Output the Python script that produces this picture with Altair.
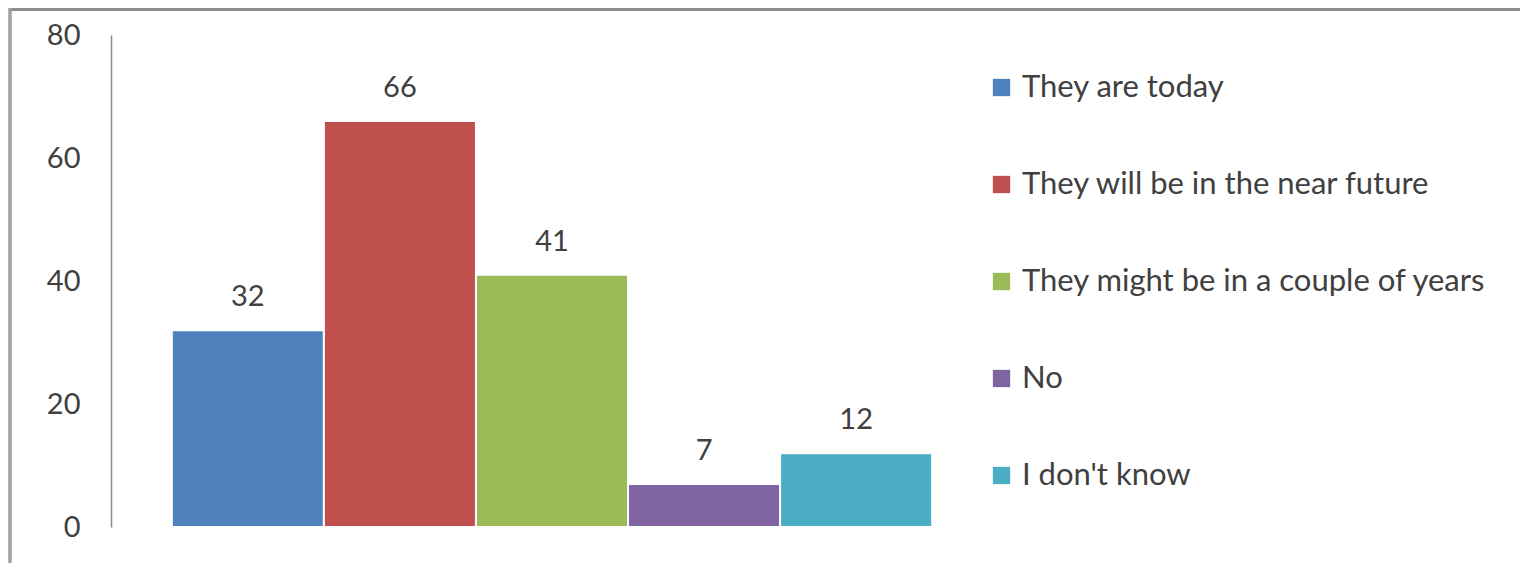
import altair as alt
import pandas as pd

categories = ["They are today", "They will be in the near future",
              "They might be in a couple of years", "No", "I don't know"]
values = [32, 66, 41, 7, 12]
colors = ["#4F81BD", "#C0504D", "#9BBB59", "#8064A2", "#4BACC6"]
y_ticks = [0, 20, 40, 60, 80]

df = pd.DataFrame({"answer": categories, "count": values})

FONT = "Lato"
W, H = 882, 492

x = alt.X("answer:N", sort=categories, axis=None,
          scale=alt.Scale(paddingInner=0, paddingOuter=0.4))
y = alt.Y("count:Q", scale=alt.Scale(domain=[0, 80], nice=False),
          axis=alt.Axis(values=y_ticks, title=None, grid=False, ticks=False,
                        domainColor="#8a8a8a", domainWidth=1.5,
                        labelFontSize=29, labelColor="#404040", labelFont=FONT,
                        labelPadding=31))

bars = alt.Chart(df).mark_bar(stroke="white", strokeWidth=2).encode(
    x=x, y=y,
    color=alt.Color("answer:N", sort=categories,
                    scale=alt.Scale(domain=categories, range=colors),
                    legend=alt.Legend(title=None, orient="none", legendX=875, legendY=37,
                                      symbolType="square", symbolSize=300,
                                      symbolStrokeWidth=0, labelFontSize=31,
                                      labelFont=FONT, labelColor="#404040",
                                      labelOffset=5, rowPadding=65, labelLimit=700)),
)

labels = alt.Chart(df).mark_text(dy=-33, fontSize=29, font=FONT, color="#404040").encode(
    x=x, y=y, text="count:Q")

border_top = alt.Chart(df).mark_rule(color="#8c8c8c", strokeWidth=3).encode(
    x=alt.value(-102), x2=alt.value(1500), y=alt.value(-26))
border_left = alt.Chart(df).mark_rule(color="#a0a0a0", strokeWidth=2.5).encode(
    x=alt.value(-101), y=alt.value(-27), y2=alt.value(600))

chart = alt.layer(bars, labels, border_top, border_left).properties(
    width=W, height=H,
    autosize=alt.AutoSizeParams(type="none"),
    padding={"left": 103, "top": 27, "right": 527, "bottom": 36},
).configure(background="white").configure_view(stroke=None, strokeWidth=0)

chart.save("out.html", embed_options={"renderer": "svg", "actions": False})
